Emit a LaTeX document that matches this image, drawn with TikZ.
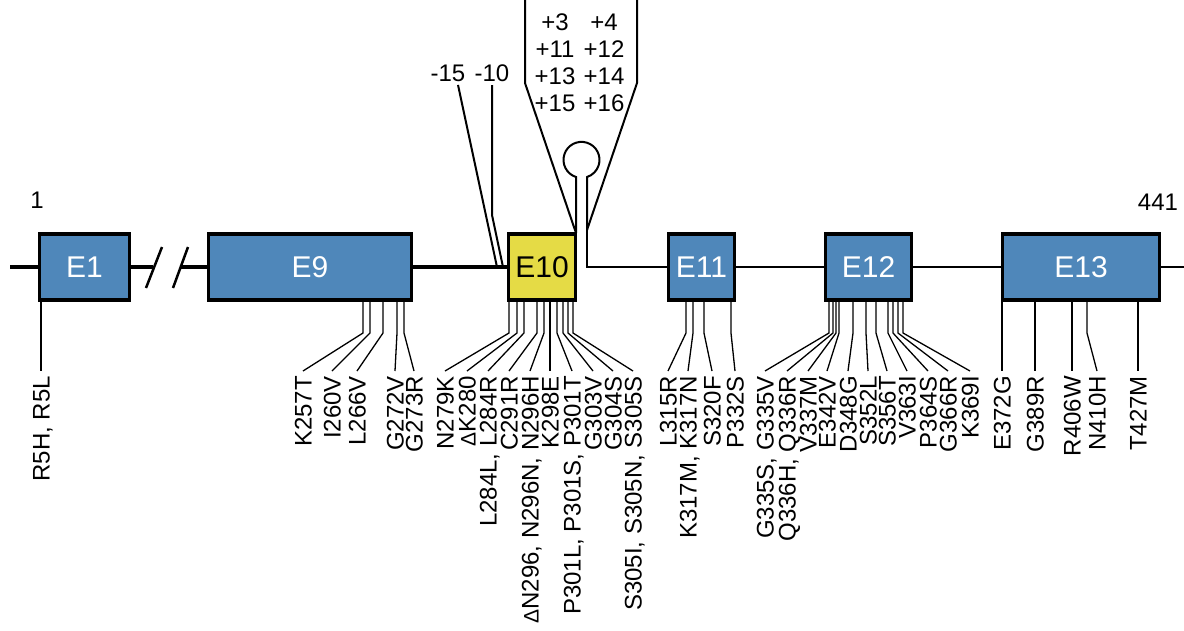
\documentclass[tikz,border=0pt]{standalone}
\usepackage{fontspec}
\setmainfont{Liberation Sans}
\usetikzlibrary{calc}
\definecolor{exonblue}{HTML}{4F87BA}
\definecolor{exonyellow}{HTML}{E5DB45}
\newcommand{\dlt}{{\fontsize{21}{21}\selectfont Δ}}

\begin{document}
\begin{tikzpicture}[x=1pt, y=-1pt, every node/.style={font=\fontsize{24}{27}\selectfont},
  exon/.style={draw, line width=3.3pt, fill=exonblue, text=white, minimum height=66pt, inner sep=0pt, font=\fontsize{30}{30}\selectfont},
  mut/.style={rotate=90, anchor=east, inner sep=0pt, outer xsep=5pt, text height=17.2pt, text depth=0pt},
  mutline/.style={line width=1.3pt},
  intron/.style={line width=2pt}]
\useasboundingbox (0,0) rectangle (1184,630);
% exons
\node[exon, minimum width=90pt] (e1) at (84.5,267) {E1};
\node[exon, minimum width=203pt] (e9) at (310,267) {E9};
\node[exon, minimum width=67pt, fill=exonyellow, text=black] (e10) at (542,267) {E10};
\node[exon, minimum width=66pt] (e11) at (701.5,267) {E11};
\node[exon, minimum width=86pt] (e12) at (868.5,267) {E12};
\node[exon, minimum width=157pt] (e13) at (1081,267) {E13};
\node (start) at (37,200) {1};
\node (stop) at (1158,202) {441};
% backbone
\coordinate (left) at (10,267);
\coordinate (right) at (1184,267);
\coordinate (brkA) at (153,267);
\coordinate (brkB) at (181,267);
\draw[line width=3.3pt] (left) -- (e1.west) (e1.east) -- (brkA) (brkB) -- (e9.west) (e9.east) -- (e10.west);
\draw[line width=2.5pt] (146,288) -- (162,247) (173,288) -- (188,247);
\coordinate (stemL) at (576,233);
\coordinate (stemR) at (587,230);
\draw[line width=2.2pt] (stemR) -- (stemR |- e11.west) -- (e11.west) (e11.east) -- (e12.west) (e12.east) -- (e13.west) (e13.east) -- (right);
% stem loop and splice sites
\draw[intron] (stemL) -- (576,177) arc[start angle=107.8, end angle=432.2, radius=18] -- (stemR);
\draw[intron] (stemL) -- (525,83) -- (525,0);
\draw[intron] (stemR) -- (637,83) -- (637,0);
\foreach \a/\b [count=\i] in {3/4, 11/12, 13/14, 15/16} {
  \node (p\a) at (555,-5+27*\i) {+\a};
  \node (p\b) at (604,-5+27*\i) {+\b};
}
\node (m15) at (448,73) {-15};
\node (m10) at (492,73) {-10};
\draw[intron] ($(m15.south)+(10,0)$) -- (497,267);
\draw[intron] (m10.south) -- (492,215) -- (503,267);
% mutations
\foreach \ex/\vx/\lx/\txt [count=\i] in {e1/41/41/{R5H, R5L},
  e9/363/303/K257T, e9/370/332/I260V, e9/383/357/L266V, e9/397/395/G272V, e9/404/414/G273R,
  e10/509/445/N279K, e10/517/467/\dlt K280, e10/524/488/{L284L, L284R}, e10/537/509/C291R,
  e10/544/530/{\dlt N296, N296N, N296H}, e10/550/550/K298E, e10/557/572/{P301L, P301S, P301T},
  e10/563/593/G303V, e10/568/613/G304S, e10/573/633/{S305I, S305N, S305S},
  e11/686/668/L315R, e11/693/688/{K317M, K317N}, e11/704/712/S320F, e11/731/735/P332S,
  e12/829/765/{G335S, G335V}, e12/833/787/{Q336H, Q336R}, e12/836/808/V337M, e12/839/827/E342V,
  e12/853/848/D348G, e12/866/868/S352L, e12/876/887/S356T, e12/888/907/V363I,
  e12/893/928/P364S, e12/898/948/G366R, e12/903/970/K369I,
  e13/1002/1002/E372G, e13/1035/1035/G389R, e13/1072/1072/R406W, e13/1087/1097/N410H, e13/1138/1138/T427M} {
  \node[mut] (mut\i) at (\lx,371) {\txt};
  \draw[mutline] (\vx,0 |- \ex.south) -- (\vx,333) -- (mut\i.east);
}
\end{tikzpicture}
\end{document}
